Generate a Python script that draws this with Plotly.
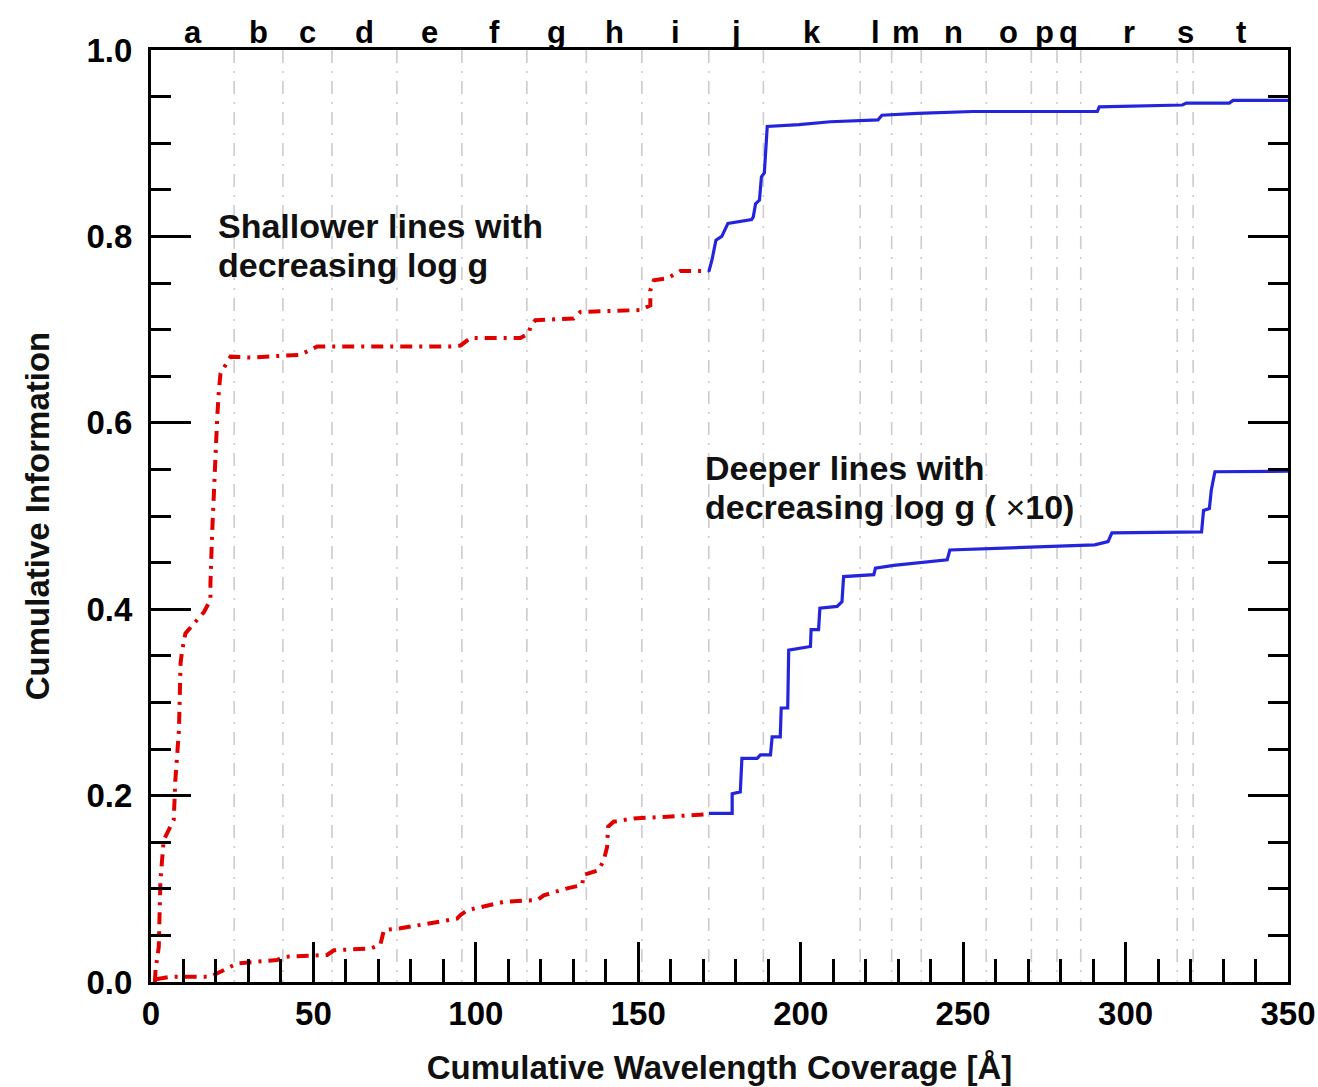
import plotly.graph_objects as go

# ---------------- data ----------------
# upper curve ("Shallower lines with decreasing log g")
upper_red_x = [1.2, 1.4, 2.4, 2.9, 3.9, 7.0, 7.5, 8.6, 9.1, 9.6, 10.6, 16.3, 18.3, 18.3, 18.8, 19.3,
               19.9, 20.4, 20.9, 21.4, 24.5, 30.6, 46.0, 49.1, 51.2, 92.2, 95.3, 98.3, 113.7, 116.3,
               116.8, 118.3, 130.1, 132.2, 150.7, 153.7, 153.7, 154.8, 158.9, 163.0, 171.7]
upper_red_y = [0.0, 0.013, 0.038, 0.109, 0.152, 0.174, 0.217, 0.27, 0.342, 0.356, 0.374, 0.397, 0.41,
               0.428, 0.48, 0.528, 0.571, 0.607, 0.635, 0.653, 0.671, 0.670, 0.673, 0.678, 0.682,
               0.682, 0.683, 0.691, 0.691, 0.696, 0.703, 0.710, 0.712, 0.719, 0.721, 0.726, 0.742,
               0.753, 0.755, 0.763, 0.763]
upper_blue_x = [171.7, 172.7, 173.9, 175.7, 177.6, 184.9, 185.4, 186.1, 187.3, 187.9, 188.8, 189.7,
                199.5, 209.1, 223.8, 225.0, 235.9, 253.0, 284.6, 291.3, 291.9, 317.5, 318.7, 331.9,
                333.1, 350.0]
upper_blue_y = [0.762, 0.775, 0.796, 0.800, 0.814, 0.818, 0.821, 0.835, 0.839, 0.864, 0.868, 0.918,
                0.920, 0.923, 0.925, 0.930, 0.932, 0.934, 0.934, 0.934, 0.939, 0.941, 0.943, 0.943,
                0.946, 0.946]

# lower curve ("Deeper lines with decreasing log g (x10)")
lower_red_x = [1.5, 6.0, 18.3, 20.4, 23.5, 26.5, 38.8, 40.9, 54.2, 56.3, 67.6, 70.6, 71.7, 76.8,
               94.2, 95.3, 97.3, 108.6, 118.9, 120.9, 128.1, 132.7, 133.2, 137.8, 139.4, 140.4,
               140.7, 142.4, 148.6, 158.9, 169.7, 171.7]
lower_red_y = [0.003, 0.0057, 0.0057, 0.009, 0.0147, 0.020, 0.0236, 0.027, 0.029, 0.034, 0.036,
               0.040, 0.0558, 0.0576, 0.068, 0.072, 0.077, 0.086, 0.088, 0.093, 0.1005, 0.104,
               0.115, 0.120, 0.131, 0.145, 0.1667, 0.172, 0.1755, 0.1774, 0.179, 0.180]
lower_blue_x = [171.7, 178.9, 178.9, 181.4, 181.9, 186.6, 187.6, 190.7, 191.2, 193.7, 194.0, 196.0,
                196.3, 203.0, 203.2, 205.5, 205.9, 211.2, 212.7, 213.2, 222.5, 223.0, 228.6, 240.9,
                245.1, 245.9, 261.5, 286.9, 290.5, 294.6, 295.8, 323.4, 324.0, 325.8, 326.4, 327.5,
                350.0]
lower_blue_y = [0.181, 0.181, 0.202, 0.204, 0.240, 0.240, 0.2436, 0.2436, 0.263, 0.263, 0.294, 0.294,
                0.356, 0.360, 0.378, 0.378, 0.401, 0.403, 0.408, 0.435, 0.437, 0.444, 0.447, 0.451,
                0.453, 0.4635, 0.4653, 0.4678, 0.469, 0.4725, 0.482, 0.483, 0.506, 0.508, 0.528,
                0.5475, 0.548]

# wavelength-region boundaries (dashed lines) and region labels
region_bounds = [25.6, 40.6, 55.7, 75.7, 95.7, 115.7, 134.0, 151.1, 171.7, 188.5, 218.3, 228.0,
                 237.1, 257.1, 271.0, 278.9, 286.2, 315.9, 320.8]
region_labels = list("abcdefghijklmnopqrst")

# in-plot labels: (x, y, text)
upper_label_lines = [(20.0, 0.811, "Shallower lines with"), (20.0, 0.769, "decreasing log g")]
lower_label_lines = [(169.8, 0.551, "Deeper lines with"),
                     (169.8, 0.510, "decreasing log g ( <span style='font-weight:normal'>×</span>10)")]

x_range = [0, 350]
y_range = [0, 1]

# ---------------- figure ----------------
FONT = "Liberation Sans, Arial, Helvetica, sans-serif"
RED = "#e00000"
BLUE = "#2424dd"
RED_DASH = "12px,7px,3px,7px"

fig = go.Figure()

fig.add_trace(go.Scatter(x=upper_red_x, y=upper_red_y, mode="lines",
                         line=dict(color=RED, width=4, dash=RED_DASH), showlegend=False))
fig.add_trace(go.Scatter(x=lower_red_x, y=lower_red_y, mode="lines",
                         line=dict(color=RED, width=4, dash=RED_DASH), showlegend=False))
fig.add_trace(go.Scatter(x=upper_blue_x, y=upper_blue_y, mode="lines",
                         line=dict(color=BLUE, width=3.2), showlegend=False))
fig.add_trace(go.Scatter(x=lower_blue_x, y=lower_blue_y, mode="lines",
                         line=dict(color=BLUE, width=3.2), showlegend=False))

shapes = []
for b in region_bounds:
    shapes.append(dict(type="line", xref="x", yref="paper", x0=b, x1=b, y0=1, y1=0,
                       line=dict(color="#cccccc", width=1.6, dash="13px,8px,2px,8px"),
                       layer="below"))

edges = [x_range[0]] + region_bounds + [x_range[1]]
annotations = []
for i, lab in enumerate(region_labels):
    c = 0.5 * (edges[i] + edges[i + 1])
    annotations.append(dict(x=c, y=1, xref="x", yref="paper", text=lab, showarrow=False,
                            xanchor="center", yanchor="middle", yshift=18,
                            font=dict(family=FONT, size=31, color="black", weight="bold")))

for (lx, ly, txt) in upper_label_lines + lower_label_lines:
    annotations.append(dict(x=lx, y=ly, xref="x", yref="y", text=txt,
                            showarrow=False, xanchor="left", yanchor="middle", align="left",
                            font=dict(family=FONT, size=34, color="#111111", weight="bold")))

axis_common = dict(showgrid=False, zeroline=False, showline=True, linecolor="black", linewidth=3,
                   ticks="inside", tickcolor="black", tickwidth=3, automargin=False,
                   tickfont=dict(family=FONT, size=33, color="black", weight="bold"))

fig.update_layout(
    width=1318, height=1087,
    margin=dict(l=151, r=30, t=50, b=105),
    paper_bgcolor="white", plot_bgcolor="white",
    shapes=shapes, annotations=annotations,
    xaxis=dict(range=x_range, dtick=50, tick0=0, ticklen=40, mirror=True,
               minor=dict(ticks="inside", dtick=10, ticklen=23, tickwidth=3, tickcolor="black"),
               ticklabelstandoff=0,
               title=dict(text="Cumulative Wavelength Coverage [Å]", standoff=26,
                          font=dict(family=FONT, size=33, color="#111111", weight="bold")),
               **axis_common),
    yaxis=dict(range=y_range, dtick=0.2, tick0=0, ticklen=40, mirror="ticks", tickformat=".1f",
               minor=dict(ticks="inside", dtick=0.05, ticklen=20, tickwidth=3, tickcolor="black"),
               ticklabelstandoff=9,
               title=dict(text="Cumulative Information", standoff=27,
                          font=dict(family=FONT, size=33, color="#111111", weight="bold")),
               **axis_common),
)

fig.write_html("out.html")
